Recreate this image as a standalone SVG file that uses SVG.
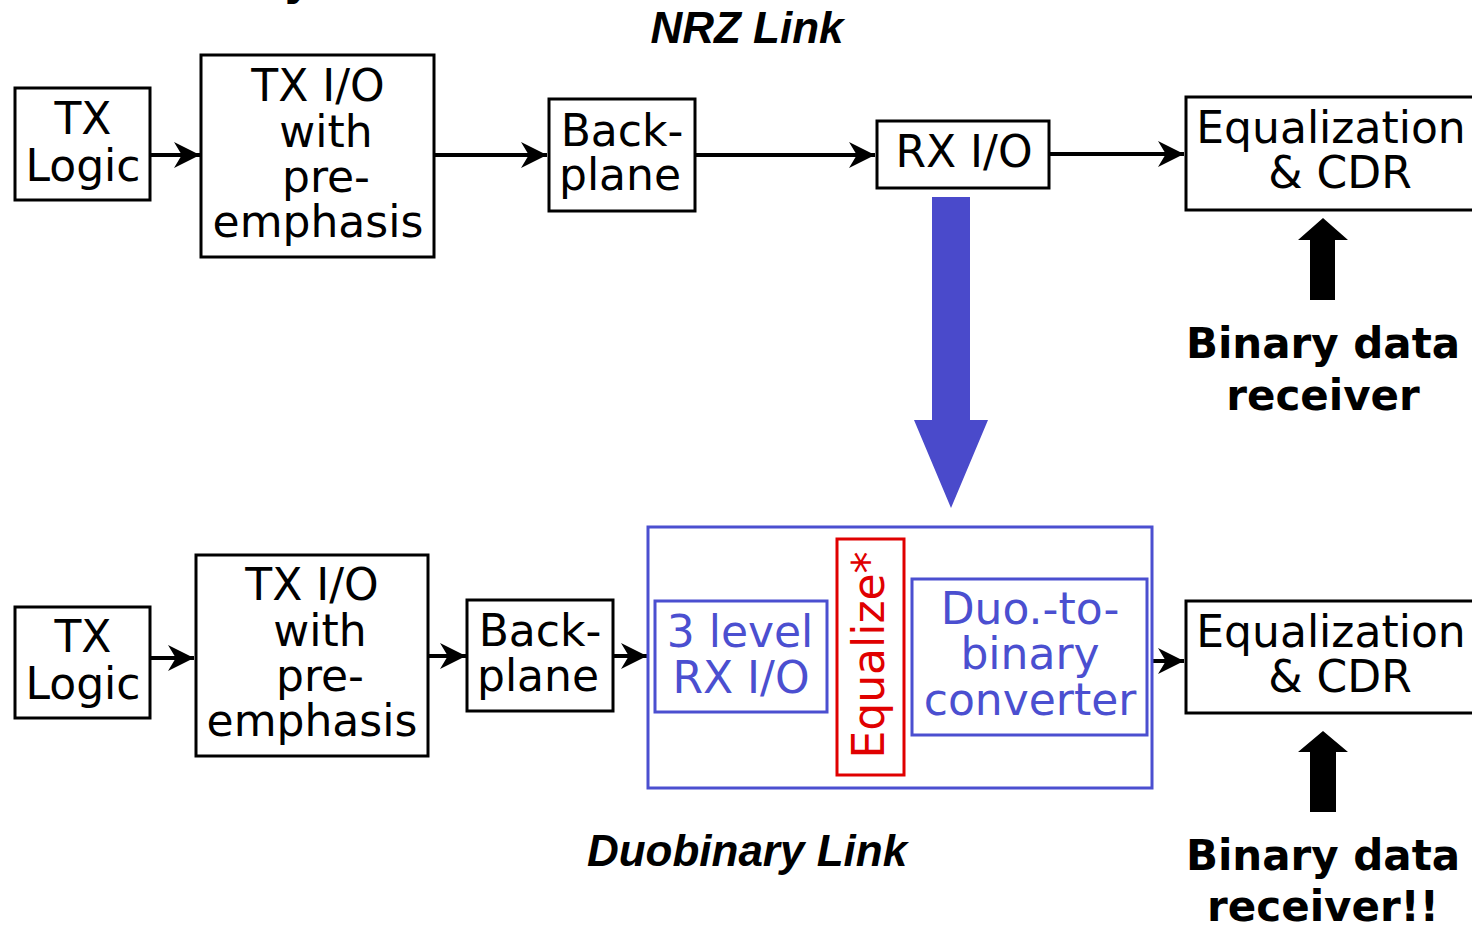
<svg xmlns="http://www.w3.org/2000/svg" width="1472" height="925" viewBox="0 0 1472 925">
<defs>
<style>
.box{fill:#fff;stroke:#000;stroke-width:3}
.bbox{fill:none;stroke:#4B4FD0;stroke-width:3}
.rbox{fill:none;stroke:#E00000;stroke-width:3}
.t{font-family:"DejaVu Sans",Verdana,sans-serif;font-size:44px;text-anchor:middle;fill:#000}
.tb{fill:#4B4FD0}
.tr{fill:#E00000}
.bold{font-family:"DejaVu Sans","Liberation Sans",sans-serif;font-weight:bold;font-size:42px;text-anchor:middle;fill:#000}
.title{font-family:"Liberation Sans",Arial,sans-serif;font-weight:bold;font-style:italic;font-size:44px;text-anchor:middle;fill:#000}
.conn{stroke:#000;stroke-width:4;fill:none;marker-end:url(#ah)}
</style>
<marker id="ah" viewBox="0 0 10 10" refX="10" refY="5" markerWidth="6.5" markerHeight="6.5" markerUnits="strokeWidth" orient="auto">
<path d="M0,0 L10,5 L0,10 L3,5 Z" fill="#000"/>
</marker>
</defs>
<rect width="1472" height="925" fill="#fff"/>
<text x="283" y="-5" font-family="DejaVu Sans,sans-serif" font-weight="bold" font-size="44">y</text>
<text class="title" x="747" y="43">NRZ Link</text>
<text class="title" x="747" y="866">Duobinary Link</text>

<g id="connectors">
<line class="conn" x1="150" y1="155" x2="200" y2="155"/>
<line class="conn" x1="434" y1="155" x2="547" y2="155"/>
<line class="conn" x1="695" y1="155" x2="875" y2="155"/>
<line class="conn" x1="1049" y1="154" x2="1184" y2="154"/>
<line class="conn" x1="150" y1="658" x2="194" y2="658"/>
<line class="conn" x1="428" y1="656" x2="466" y2="656"/>
<line class="conn" x1="613" y1="656" x2="647" y2="656"/>
<line class="conn" x1="1152" y1="661" x2="1184" y2="661"/>
<path d="M932,197 H970 V420 H988 L951,508 L914,420 H932 Z" fill="#4A4ACB"/>
<path d="M1310,300 V240 H1298 L1323,218 L1348,240 H1335 V300 Z" fill="#000"/>
<path d="M1310,812 V752 H1298 L1323,731 L1348,752 H1336 V812 Z" fill="#000"/>
</g>

<g id="tx-logic-top">
<rect class="box" x="15" y="88" width="135" height="112"/>
<text class="t" x="83" y="134">TX</text>
<text class="t" x="83" y="181">Logic</text>
</g>
<g id="tx-io-top">
<rect class="box" x="201" y="55" width="233" height="202"/>
<text class="t" x="318" y="101">TX I/O</text>
<text class="t" x="326" y="147">with</text>
<text class="t" x="326" y="192">pre-</text>
<text class="t" x="318" y="237">emphasis</text>
</g>
<g id="backplane-top">
<rect class="box" x="549" y="99" width="146" height="112"/>
<text class="t" x="622" y="146">Back-</text>
<text class="t" x="620" y="190">plane</text>
</g>
<g id="rx-io-top">
<rect class="box" x="877" y="121" width="172" height="67"/>
<text class="t" x="964" y="167">RX I/O</text>
</g>
<g id="eq-cdr-top">
<rect class="box" x="1186" y="97" width="290" height="113"/>
<text class="t" x="1331" y="143">Equalization</text>
<text class="t" x="1340" y="188">&amp; CDR</text>
</g>
<g id="label-top">
<text class="bold" x="1323" y="358">Binary data</text>
<text class="bold" x="1323" y="410">receiver</text>
</g>

<g id="tx-logic-bot">
<rect class="box" x="15" y="607" width="135" height="111"/>
<text class="t" x="83" y="652">TX</text>
<text class="t" x="83" y="699">Logic</text>
</g>
<g id="tx-io-bot">
<rect class="box" x="196" y="555" width="232" height="201"/>
<text class="t" x="312" y="600">TX I/O</text>
<text class="t" x="320" y="646">with</text>
<text class="t" x="320" y="691">pre-</text>
<text class="t" x="312" y="736">emphasis</text>
</g>
<g id="backplane-bot">
<rect class="box" x="467" y="600" width="146" height="111"/>
<text class="t" x="540" y="646">Back-</text>
<text class="t" x="538" y="691">plane</text>
</g>
<g id="duobinary-rx">
<rect class="bbox" x="648" y="527" width="504" height="261"/>
</g>
<g id="three-level">
<rect class="bbox" x="655" y="601" width="172" height="111"/>
<text class="t tb" x="740" y="647">3 level</text>
<text class="t tb" x="741" y="693">RX I/O</text>
</g>
<g id="equalize">
<rect class="rbox" x="837" y="539" width="67" height="236"/>
<text class="t tr" transform="translate(884,655) rotate(-90)">Equalize*</text>
</g>
<g id="duo-to-binary">
<rect class="bbox" x="912" y="579" width="235" height="156"/>
<text class="t tb" x="1030" y="624">Duo.-to-</text>
<text class="t tb" x="1030" y="669">binary</text>
<text class="t tb" x="1030" y="715">converter</text>
</g>
<g id="eq-cdr-bot">
<rect class="box" x="1186" y="601" width="290" height="112"/>
<text class="t" x="1331" y="647">Equalization</text>
<text class="t" x="1340" y="692">&amp; CDR</text>
</g>
<g id="label-bot">
<text class="bold" x="1323" y="870">Binary data</text>
<text class="bold" x="1323" y="921">receiver!!</text>
</g>
</svg>
